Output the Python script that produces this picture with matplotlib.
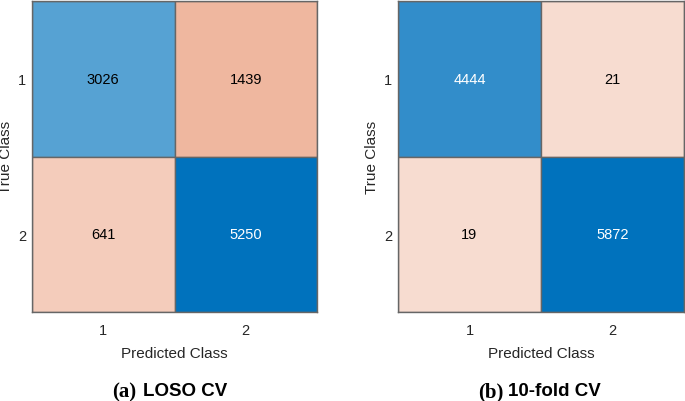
import numpy as np
import matplotlib.pyplot as plt
from matplotlib.patches import Rectangle

# confusion matrices, rows = true class, cols = predicted class
loso_cm = [[3026, 1439],
           [641, 5250]]
kfold_cm = [[4444, 21],
            [19, 5872]]
class_labels = ["1", "2"]
captions = [("(a)", "LOSO CV"), ("(b)", "10-fold CV")]

diag_rgb = np.array([0, 114, 189]) / 255.0
off_rgb = np.array([217, 83, 25]) / 255.0
sans = "Liberation Sans"
W, H = 685.0, 402.0


def cell_colour(v, vmax, diag):
	t = 0.2 + 0.8 * v / vmax
	base = diag_rgb if diag else off_rgb
	return (1 - t) * np.ones(3) + t * base, t


def draw_cm(ax, cm):
	cm = np.array(cm)
	vmax = cm.max()
	n = cm.shape[0]
	for i in range(n):
		for j in range(n):
			col, t = cell_colour(cm[i, j], vmax, i == j)
			ax.add_patch(Rectangle((j - 0.5, i - 0.5), 1, 1, facecolor=col,
				edgecolor="#666666", linewidth=1.0))
			txtc = "white" if t > 0.7 else "black"
			ax.text(j, i, str(cm[i, j]), ha="center", va="center",
				color=txtc, fontsize=10.5, family=sans)
	ax.set_xlim(-0.5, n - 0.5)
	ax.set_ylim(n - 0.5, -0.5)
	ax.set_xticks(range(n))
	ax.set_yticks(range(n))
	ax.set_xticklabels(class_labels, family=sans, fontsize=10.5, color="#262626")
	ax.set_yticklabels(class_labels, family=sans, fontsize=10.5, color="#262626")
	ax.tick_params(axis="x", length=0, pad=8)
	ax.tick_params(axis="y", length=0, pad=4)
	ax.set_xlabel("Predicted Class", family=sans, fontsize=11, color="#262626")
	ax.set_ylabel("True Class", family=sans, fontsize=11, color="#262626")
	ax.xaxis.set_label_coords(0.5, -(347 - 313) / 311.0)
	ax.yaxis.set_label_coords(-0.068, 0.5)
	for s in ax.spines.values():
		s.set_color("#666666")
		s.set_linewidth(1.0)


fig = plt.figure(figsize=(6.85, 4.02), dpi=100)
ax1 = fig.add_axes([32 / W, 1 - 313 / H, 285 / W, 311 / H])
ax2 = fig.add_axes([398 / W, 1 - 313 / H, 286 / W, 311 / H])
draw_cm(ax1, loso_cm)
draw_cm(ax2, kfold_cm)

cap_pos = [(112, 143), (478, 508)]
for (xt, xn), (tag, name) in zip(cap_pos, captions):
	fig.text(xt / W, 1 - 392 / H, tag, ha="left", va="center",
		family="Liberation Serif", fontweight="bold", fontsize=15)
	fig.text(xn / W, 1 - 392 / H, name, ha="left", va="center",
		family=sans, fontweight="bold", fontsize=13.5)

fig.savefig("out.png", dpi=100)
